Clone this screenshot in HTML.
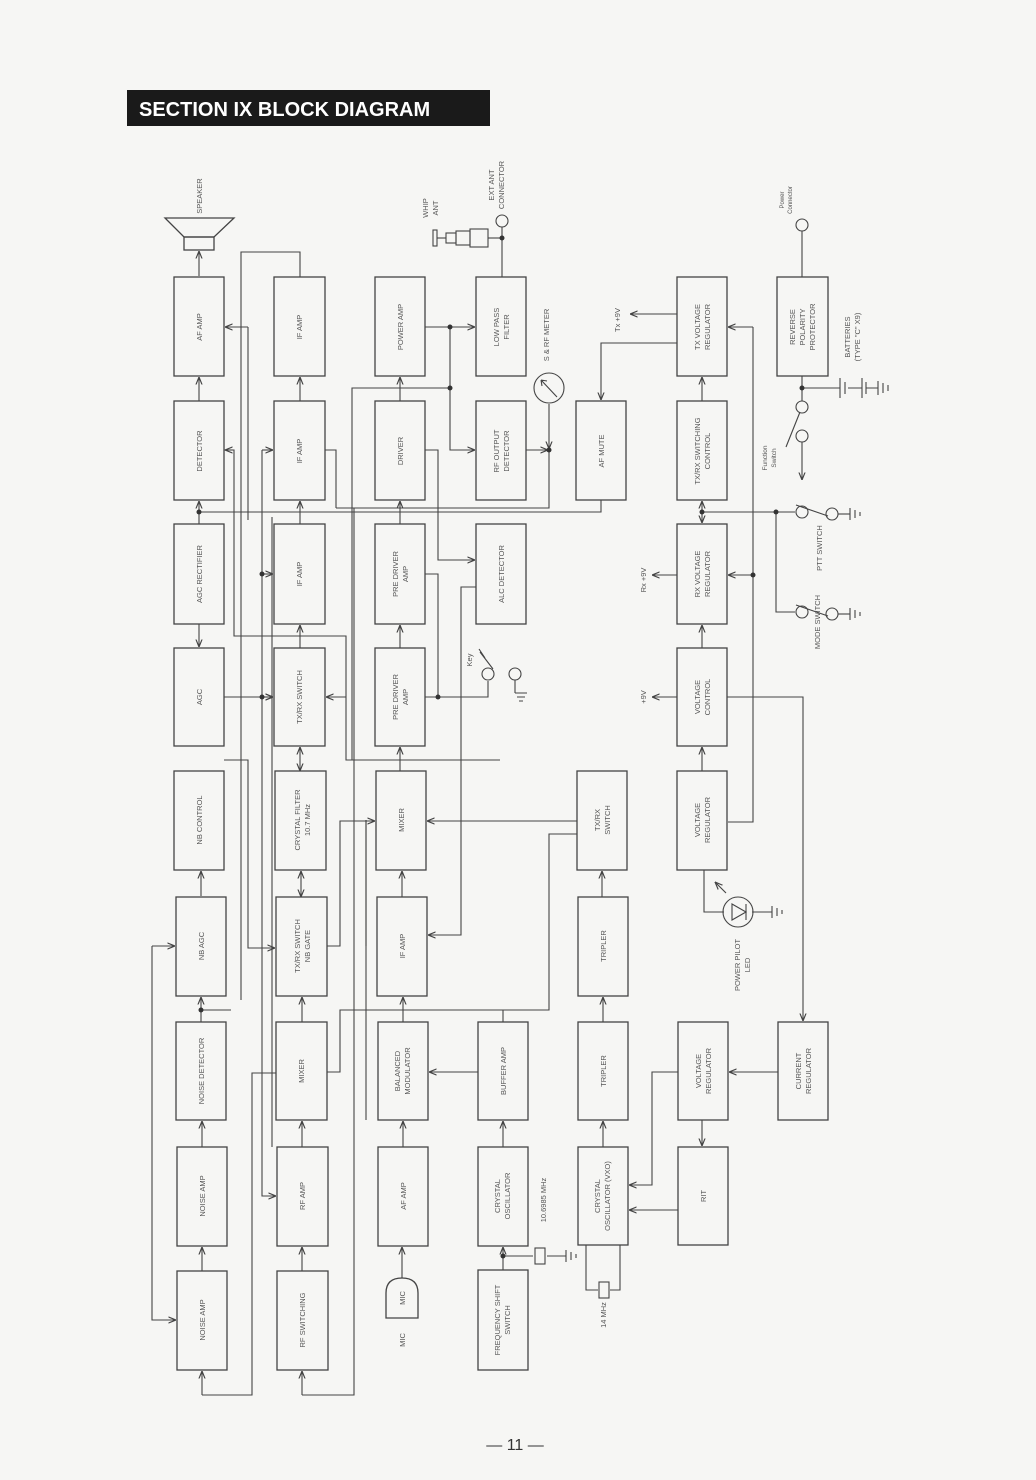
<!DOCTYPE html>
<html><head><meta charset="utf-8"><style>
html,body{margin:0;padding:0;background:#f6f6f4;}
svg{display:block}
text{font-family:"Liberation Sans",sans-serif;fill:#555;font-size:7.5px}
.b{fill:none;stroke:#444;stroke-width:1.3}
.l{fill:none;stroke:#444;stroke-width:1.1}
</style></head><body>
<svg width="1036" height="1480" viewBox="0 0 1036 1480">
<defs><marker id="a" viewBox="0 0 10 10" refX="10" refY="5" markerWidth="7" markerHeight="7" orient="auto-start-reverse"><path d="M0,1 L10,5 L0,9" fill="none" stroke="#444" stroke-width="1.5"/></marker></defs>
<rect x="127" y="90" width="363" height="36" fill="#1a1a1a"/>
<text x="139" y="116" style="font-size:20px;fill:#fff;font-weight:bold">SECTION IX  BLOCK DIAGRAM</text>
<g class="b">
<rect x="174" y="277" width="50" height="99"/><rect x="174" y="401" width="50" height="99"/><rect x="174" y="524" width="50" height="100"/><rect x="174" y="648" width="50" height="98"/><rect x="174" y="771" width="50" height="99"/><rect x="176" y="897" width="50" height="99"/><rect x="176" y="1022" width="50" height="98"/><rect x="177" y="1147" width="50" height="99"/><rect x="177" y="1271" width="50" height="99"/>
<rect x="274" y="277" width="51" height="99"/><rect x="274" y="401" width="51" height="99"/><rect x="274" y="524" width="51" height="100"/><rect x="274" y="648" width="51" height="98"/><rect x="275" y="771" width="51" height="99"/><rect x="276" y="897" width="51" height="99"/><rect x="276" y="1022" width="51" height="98"/><rect x="277" y="1147" width="51" height="99"/><rect x="277" y="1271" width="51" height="99"/>
<rect x="375" y="277" width="50" height="99"/><rect x="375" y="401" width="50" height="99"/><rect x="375" y="524" width="50" height="100"/><rect x="375" y="648" width="50" height="98"/><rect x="376" y="771" width="50" height="99"/><rect x="377" y="897" width="50" height="99"/><rect x="378" y="1022" width="50" height="98"/><rect x="378" y="1147" width="50" height="99"/>
<rect x="476" y="277" width="50" height="99"/><rect x="476" y="401" width="50" height="99"/><rect x="476" y="524" width="50" height="100"/><rect x="478" y="1022" width="50" height="98"/><rect x="478" y="1147" width="50" height="99"/><rect x="478" y="1270" width="50" height="100"/>
<rect x="576" y="401" width="50" height="99"/><rect x="577" y="771" width="50" height="99"/><rect x="578" y="897" width="50" height="99"/><rect x="578" y="1022" width="50" height="98"/><rect x="578" y="1147" width="50" height="98"/>
<rect x="677" y="277" width="50" height="99"/><rect x="677" y="401" width="50" height="99"/><rect x="677" y="524" width="50" height="100"/><rect x="677" y="648" width="50" height="98"/><rect x="677" y="771" width="50" height="99"/><rect x="678" y="1022" width="50" height="98"/><rect x="678" y="1147" width="50" height="98"/>
<rect x="777" y="277" width="51" height="99"/><rect x="778" y="1022" width="50" height="98"/>
<!-- speaker -->
<path d="M165,218 L234,218 L214,237 L184,237 Z"/><rect x="184" y="237" width="30" height="13"/>
<!-- mic -->
<path d="M386,1318 L386,1293 Q386,1278 402,1278 Q418,1278 418,1293 L418,1318 Z"/>
</g>
<g class="l">
<!-- col1 -->
<path d="M199,276V251" marker-end="url(#a)"/><path d="M199,401V377" marker-end="url(#a)"/><path d="M199,524V501" marker-end="url(#a)"/>
<path d="M199,624V647" marker-end="url(#a)"/><path d="M224,697H273" marker-end="url(#a)"/>
<path d="M201,896V871" marker-end="url(#a)"/><path d="M201,1022V997" marker-end="url(#a)"/><path d="M202,1147V1121" marker-end="url(#a)"/><path d="M202,1271V1247" marker-end="url(#a)"/>
<path d="M201,1010H231"/><path d="M199,512H601V500"/>
<path d="M202,1395V1371" marker-end="url(#a)"/><path d="M202,1395H252V1073H276"/>
<path d="M152,946H175" marker-end="url(#a)"/><path d="M152,946V1320H176" marker-end="url(#a)"/>
<path d="M224,760H248V948H275" marker-end="url(#a)"/>
<path d="M248,327H225" marker-end="url(#a)"/><path d="M248,327V520"/>
<path d="M300,277V252H241V1000"/>
<path d="M224,450H234V636H346V760H500"/>
<path d="M225,450H233" marker-start="url(#a)"/>
<!-- col2 -->
<path d="M300,401V377" marker-end="url(#a)"/><path d="M300,524V501" marker-end="url(#a)"/><path d="M300,648V625" marker-end="url(#a)"/>
<path d="M300,771V747" marker-start="url(#a)" marker-end="url(#a)"/><path d="M301,897V871" marker-start="url(#a)" marker-end="url(#a)"/>
<path d="M302,1022V997" marker-end="url(#a)"/><path d="M302,1147V1121" marker-end="url(#a)"/><path d="M302,1271V1247" marker-end="url(#a)"/>
<path d="M302,1395V1371" marker-end="url(#a)"/><path d="M302,1395H354V508"/>
<path d="M262,450H273" marker-end="url(#a)"/><path d="M262,450V1196H276" marker-end="url(#a)"/><path d="M262,574H273" marker-end="url(#a)"/><path d="M262,697H273" marker-end="url(#a)"/>
<path d="M272,517V1147"/>
<path d="M325,450H336V508"/>
<path d="M346,697H326" marker-end="url(#a)"/>
<path d="M327,946H340V821H375" marker-end="url(#a)"/>
<path d="M366,1120V1000H366V820"/>
<path d="M327,1072H340V1010H549V834H577"/>
<path d="M366,946V820"/>
<!-- col3 -->
<path d="M400,401V377" marker-end="url(#a)"/><path d="M400,524V501" marker-end="url(#a)"/><path d="M400,648V625" marker-end="url(#a)"/><path d="M400,771V747" marker-end="url(#a)"/>
<path d="M402,897V871" marker-end="url(#a)"/><path d="M403,1022V997" marker-end="url(#a)"/><path d="M403,1147V1121" marker-end="url(#a)"/><path d="M402,1278V1247" marker-end="url(#a)"/>
<path d="M425,327H475" marker-end="url(#a)"/><path d="M450,327V450H475" marker-end="url(#a)"/>
<path d="M450,388H352V760"/>
<path d="M526,450H548" marker-end="url(#a)"/><path d="M549,404V449" marker-end="url(#a)"/><path d="M549,450V508H336"/>
<path d="M425,450H438V560H475" marker-end="url(#a)"/>
<path d="M476,587H461V935H428" marker-end="url(#a)"/>
<path d="M425,574H438V697"/>
<path d="M425,697H488V681"/><path d="M577,821H427" marker-end="url(#a)"/>
<path d="M478,1072H429" marker-end="url(#a)"/>
<path d="M503,1022V1010"/>
<path d="M503,1147V1121" marker-end="url(#a)"/><path d="M503,1270V1247" marker-end="url(#a)"/><path d="M503,1256H533M547,1256H566"/>
<!-- col5 -->
<path d="M677,343H601V400" marker-end="url(#a)"/>
<path d="M602,897V871" marker-end="url(#a)"/><path d="M603,1022V997" marker-end="url(#a)"/><path d="M603,1147V1121" marker-end="url(#a)"/>
<path d="M586,1245V1290H598M610,1290H620V1245"/>
<path d="M678,1210H629" marker-end="url(#a)"/><path d="M678,1072H652V1185H629" marker-end="url(#a)"/>
<!-- col6 -->
<path d="M702,401V377" marker-end="url(#a)"/><path d="M677,314H630" marker-end="url(#a)"/>
<path d="M702,512V501" marker-end="url(#a)"/><path d="M702,512V523" marker-end="url(#a)"/>
<path d="M702,512H795"/><path d="M776,512V612H795"/>
<path d="M753,327H728" marker-end="url(#a)"/><path d="M753,327V822H728"/><path d="M753,575H728" marker-end="url(#a)"/>
<path d="M677,575H652" marker-end="url(#a)"/>
<path d="M702,648V625" marker-end="url(#a)"/><path d="M702,771V747" marker-end="url(#a)"/>
<path d="M677,697H652" marker-end="url(#a)"/><path d="M727,697H803V1021" marker-end="url(#a)"/>
<path d="M702,1120V1146" marker-end="url(#a)"/><path d="M778,1072H729" marker-end="url(#a)"/>
<path d="M704,870V912H724M752,912H772"/>
<circle cx="738" cy="912" r="15"/><path d="M732,904L746,912L732,920ZM746,904V920"/>
<path d="M726,893L715,882" marker-end="url(#a)"/>
<!-- col7 -->
<circle cx="802" cy="225" r="6"/><path d="M802,231V277"/>
<path d="M802,376V401"/><path d="M802,388H840M848,388H862M866,388H878"/>
<path d="M840,378V398M845,382V394M862,378V398M866,382V394"/><path d="M848,388H862" stroke-dasharray="3,2"/>
<circle cx="802" cy="407" r="6"/><path d="M800,412L786,447"/><circle cx="802" cy="436" r="6"/><path d="M802,442V480" marker-end="url(#a)"/>
<circle cx="802" cy="512" r="6"/><path d="M796,505L828,516"/><circle cx="832" cy="514" r="6"/><path d="M838,514H850"/>
<circle cx="802" cy="612" r="6"/><path d="M796,605L828,616"/><circle cx="832" cy="614" r="6"/><path d="M838,614H850"/>
<!-- whip ant -->
<rect x="433" y="230" width="4" height="16"/><path d="M437,238H446"/><rect x="446" y="233" width="10" height="10"/><rect x="456" y="231" width="14" height="14"/><rect x="470" y="229" width="18" height="18"/><path d="M488,238H502"/>
<circle cx="502" cy="221" r="6"/><path d="M502,227V277"/>
<circle cx="549" cy="388" r="15"/><path d="M541,380L557,397M541,380L547,381M541,380L542,386"/>
<circle cx="488" cy="674" r="6"/><circle cx="515" cy="674" r="6"/><path d="M493,669L480,652M479,649L485,658M515,680V693"/>
<circle cx="541" cy="1256" r="0"/><rect x="535" y="1248" width="10" height="16"/>
<rect x="599" y="1282" width="10" height="16"/>
</g>
<!-- grounds -->
<g class="l">
<path d="M878,381V395M883,383V393M888,385V391"/><path d="M850,508V520M855,510V518M860,512V516"/><path d="M850,608V620M855,610V618M860,612V616"/>
<path d="M772,906V918M777,908V916M782,910V914"/><path d="M515,693H527M517,697H525M519,701H523"/><path d="M566,1250V1262M571,1252V1260M576,1254V1258"/>
</g>
<g fill="#333"><circle cx="199" cy="512" r="2.5"/><circle cx="201" cy="1010" r="2.5"/><circle cx="262" cy="574" r="2.5"/><circle cx="262" cy="697" r="2.5"/><circle cx="450" cy="327" r="2.5"/><circle cx="450" cy="388" r="2.5"/><circle cx="549" cy="450" r="2.5"/><circle cx="438" cy="697" r="2.5"/><circle cx="502" cy="238" r="2.5"/><circle cx="503" cy="1256" r="2.5"/><circle cx="702" cy="512" r="2.5"/><circle cx="776" cy="512" r="2.5"/><circle cx="753" cy="575" r="2.5"/><circle cx="802" cy="388" r="2.5"/></g>
<g text-anchor="middle">
<text transform="translate(202,327) rotate(-90)">AF AMP</text>
<text transform="translate(202,451) rotate(-90)">DETECTOR</text>
<text transform="translate(202,574) rotate(-90)">AGC RECTIFIER</text>
<text transform="translate(202,697) rotate(-90)">AGC</text>
<text transform="translate(202,820) rotate(-90)">NB CONTROL</text>
<text transform="translate(204,946) rotate(-90)">NB AGC</text>
<text transform="translate(204,1071) rotate(-90)">NOISE DETECTOR</text>
<text transform="translate(205,1196) rotate(-90)">NOISE AMP</text>
<text transform="translate(205,1320) rotate(-90)">NOISE AMP</text>
<text transform="translate(302,327) rotate(-90)">IF AMP</text>
<text transform="translate(302,451) rotate(-90)">IF AMP</text>
<text transform="translate(302,574) rotate(-90)">IF AMP</text>
<text transform="translate(302,697) rotate(-90)">TX/RX SWITCH</text>
<text transform="translate(300,820) rotate(-90)">CRYSTAL FILTER</text><text transform="translate(310,820) rotate(-90)">10.7 MHz</text>
<text transform="translate(300,946) rotate(-90)">TX/RX SWITCH</text><text transform="translate(310,946) rotate(-90)">NB GATE</text>
<text transform="translate(304,1071) rotate(-90)">MIXER</text>
<text transform="translate(305,1196) rotate(-90)">RF AMP</text>
<text transform="translate(305,1320) rotate(-90)">RF SWITCHING</text>
<text transform="translate(403,327) rotate(-90)">POWER AMP</text>
<text transform="translate(403,451) rotate(-90)">DRIVER</text>
<text transform="translate(398,574) rotate(-90)">PRE DRIVER</text><text transform="translate(408,574) rotate(-90)">AMP</text>
<text transform="translate(398,697) rotate(-90)">PRE DRIVER</text><text transform="translate(408,697) rotate(-90)">AMP</text>
<text transform="translate(404,820) rotate(-90)">MIXER</text>
<text transform="translate(405,946) rotate(-90)">IF AMP</text>
<text transform="translate(400,1071) rotate(-90)">BALANCED</text><text transform="translate(410,1071) rotate(-90)">MODULATOR</text>
<text transform="translate(406,1196) rotate(-90)">AF AMP</text>
<text transform="translate(405,1298) rotate(-90)">MIC</text><text transform="translate(405,1340) rotate(-90)">MIC</text>
<text transform="translate(499,327) rotate(-90)">LOW PASS</text><text transform="translate(509,327) rotate(-90)">FILTER</text>
<text transform="translate(499,451) rotate(-90)">RF OUTPUT</text><text transform="translate(509,451) rotate(-90)">DETECTOR</text>
<text transform="translate(504,574) rotate(-90)">ALC DETECTOR</text>
<text transform="translate(506,1071) rotate(-90)">BUFFER AMP</text>
<text transform="translate(500,1196) rotate(-90)">CRYSTAL</text><text transform="translate(510,1196) rotate(-90)">OSCILLATOR</text>
<text transform="translate(500,1320) rotate(-90)">FREQUENCY SHIFT</text><text transform="translate(510,1320) rotate(-90)">SWITCH</text>
<text transform="translate(546,1200) rotate(-90)">10.6985 MHz</text>
<text transform="translate(604,451) rotate(-90)">AF MUTE</text>
<text transform="translate(600,820) rotate(-90)">TX/RX</text><text transform="translate(610,820) rotate(-90)">SWITCH</text>
<text transform="translate(606,946) rotate(-90)">TRIPLER</text>
<text transform="translate(606,1071) rotate(-90)">TRIPLER</text>
<text transform="translate(600,1196) rotate(-90)">CRYSTAL</text><text transform="translate(610,1196) rotate(-90)">OSCILLATOR (VXO)</text>
<text transform="translate(606,1315) rotate(-90)">14 MHz</text>
<text transform="translate(700,327) rotate(-90)">TX VOLTAGE</text><text transform="translate(710,327) rotate(-90)">REGULATOR</text>
<text transform="translate(700,451) rotate(-90)">TX/RX SWITCHING</text><text transform="translate(710,451) rotate(-90)">CONTROL</text>
<text transform="translate(700,574) rotate(-90)">RX VOLTAGE</text><text transform="translate(710,574) rotate(-90)">REGULATOR</text>
<text transform="translate(700,697) rotate(-90)">VOLTAGE</text><text transform="translate(710,697) rotate(-90)">CONTROL</text>
<text transform="translate(700,820) rotate(-90)">VOLTAGE</text><text transform="translate(710,820) rotate(-90)">REGULATOR</text>
<text transform="translate(701,1071) rotate(-90)">VOLTAGE</text><text transform="translate(711,1071) rotate(-90)">REGULATOR</text>
<text transform="translate(706,1196) rotate(-90)">RIT</text>
<text transform="translate(795,327) rotate(-90)">REVERSE</text><text transform="translate(805,327) rotate(-90)">POLARITY</text><text transform="translate(815,327) rotate(-90)">PROTECTOR</text>
<text transform="translate(801,1071) rotate(-90)">CURRENT</text><text transform="translate(811,1071) rotate(-90)">REGULATOR</text>
<text transform="translate(850,337) rotate(-90)">BATTERIES</text><text transform="translate(860,337) rotate(-90)">(TYPE "C" X9)</text>
<text transform="translate(620,320) rotate(-90)">Tx +9V</text><text transform="translate(646,580) rotate(-90)">Rx +9V</text><text transform="translate(646,697) rotate(-90)">+9V</text>
<text transform="translate(740,965) rotate(-90)">POWER PILOT</text><text transform="translate(750,965) rotate(-90)">LED</text>
<text transform="translate(202,196) rotate(-90)">SPEAKER</text>
<text transform="translate(428,208) rotate(-90)">WHIP</text><text transform="translate(438,208) rotate(-90)">ANT</text>
<text transform="translate(494,185) rotate(-90)">EXT ANT</text><text transform="translate(504,185) rotate(-90)">CONNECTOR</text>
<text transform="translate(549,335) rotate(-90)">S &amp; RF METER</text>
<text transform="translate(784,200) rotate(-90)" style="font-size:6px">Power</text><text transform="translate(792,200) rotate(-90)" style="font-size:6px">Connector</text>
<text transform="translate(767,458) rotate(-90)" style="font-size:6.5px">Function</text><text transform="translate(776,458) rotate(-90)" style="font-size:6.5px">Switch</text>
<text transform="translate(822,548) rotate(-90)">PTT SWITCH</text><text transform="translate(820,622) rotate(-90)">MODE SWITCH</text>
<text transform="translate(472,660) rotate(-90)">Key</text>
</g>
<text x="515" y="1450" text-anchor="middle" style="font-size:16px;fill:#333">— 11 —</text>
</svg>
</body></html>
